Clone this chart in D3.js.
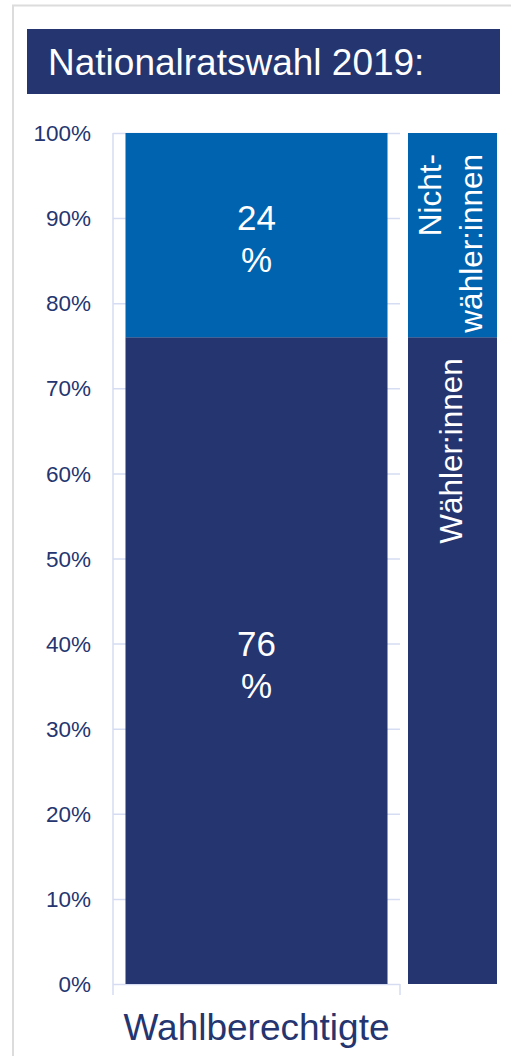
<!DOCTYPE html>
<html>
<head>
<meta charset="utf-8">
<script src="https://cdn.jsdelivr.net/npm/d3@7"></script>
<style>
  html, body { margin: 0; padding: 0; background: #ffffff; }
  svg { display: block; font-family: "Liberation Sans", Arial, sans-serif; }
</style>
</head>
<body>
<svg id="chart" width="511" height="1056"></svg>
<script>
// ---- data ----
const title = "Nationalratswahl 2019:";
const categories = ["Wahlberechtigte"];
const waehlerValues = [76];
const nichtwaehlerValues = [24];
const valueLabels = [["76", "%"], ["24", "%"]];
const yTicks = [0, 10, 20, 30, 40, 50, 60, 70, 80, 90, 100];
const yTickLabels = ["0%", "10%", "20%", "30%", "40%", "50%", "60%", "70%", "80%", "90%", "100%"];
const sideLabels = [["Wähler:innen"], ["Nicht-", "wähler:innen"]];

const navy = "#243570";
const blue = "#0063af";
const grid = "#d6ddf2";

const svg = d3.select("#chart");

// outer frame
svg.append("path")
  .attr("d", "M13,1056 L13,5.5 L511,5.5")
  .attr("fill", "none").attr("stroke", "#dcdcdc").attr("stroke-width", 2);

// title box
svg.append("rect").attr("x", 27).attr("y", 29).attr("width", 473).attr("height", 65).attr("fill", navy);
svg.append("text").attr("x", 48).attr("y", 75)
  .attr("fill", "#ffffff").attr("font-size", 37).text(title);

// scales
const y = d3.scaleLinear().domain([0, 100]).range([984, 133]);
const x = d3.scaleBand().domain(categories).range([113, 400]).paddingInner(0).paddingOuter(0.0477);
const xs = d3.scaleBand().domain(["side"]).range([408, 497]);

// gridlines
svg.append("g").selectAll("line").data(yTicks).join("line")
  .attr("x1", 113).attr("x2", 400)
  .attr("y1", d => y(d) + 0.5).attr("y2", d => y(d) + 0.5)
  .attr("stroke", grid).attr("stroke-width", 1.5);

// axis lines
svg.append("line").attr("x1", 113).attr("x2", 113).attr("y1", y(100)).attr("y2", y(0) + 11)
  .attr("stroke", grid).attr("stroke-width", 1.5);
svg.append("line").attr("x1", 400).attr("x2", 400).attr("y1", y(0)).attr("y2", y(0) + 11)
  .attr("stroke", grid).attr("stroke-width", 1.5);

// y tick labels
svg.append("g").selectAll("text").data(yTicks).join("text")
  .attr("x", 91).attr("y", d => y(d)).attr("dy", "0.36em")
  .attr("text-anchor", "end").attr("fill", navy).attr("font-size", 22.5)
  .text((d, i) => yTickLabels[i]);

// stacked data
const stackData = categories.map((c, i) => ({ cat: c, w: waehlerValues[i], n: nichtwaehlerValues[i] }));
const stack = d3.stack().keys(["w", "n"])(stackData);
const colors = { w: navy, n: blue };

stack.forEach((layer, li) => {
  layer.forEach(seg => {
    svg.append("rect")
      .attr("x", x(seg.data.cat)).attr("width", x.bandwidth())
      .attr("y", y(seg[1])).attr("height", y(seg[0]) - y(seg[1]))
      .attr("fill", colors[layer.key]);
    const cy = (y(seg[0]) + y(seg[1])) / 2;
    const t = svg.append("text")
      .attr("x", x(seg.data.cat) + x.bandwidth() / 2)
      .attr("text-anchor", "middle").attr("fill", "#ffffff").attr("font-size", 35);
    valueLabels[li].forEach((line, k) => {
      t.append("tspan").attr("x", x(seg.data.cat) + x.bandwidth() / 2)
        .attr("y", cy - 5 + k * 42).text(line);
    });
    // side bar segment
    svg.append("rect")
      .attr("x", xs("side")).attr("width", xs.bandwidth())
      .attr("y", y(seg[1])).attr("height", y(seg[0]) - y(seg[1]))
      .attr("fill", colors[layer.key]);
    const lines = sideLabels[li];
    const cx = xs("side") + xs.bandwidth() / 2;
    const ty = y(seg[1]) + 21;
    const st = svg.append("text")
      .attr("transform", `translate(${cx},${ty}) rotate(-90)`)
      .attr("text-anchor", "end").attr("fill", "#ffffff").attr("font-size", 31.5);
    lines.forEach((line, k) => {
      st.append("tspan").attr("x", 0)
        .attr("y", 9 + (k - (lines.length - 1) / 2) * 41).text(line);
    });
  });
});

// category label
svg.append("text").attr("x", (113 + 400) / 2).attr("y", 1040)
  .attr("text-anchor", "middle").attr("fill", navy).attr("font-size", 37)
  .text(categories[0]);
</script>
</body>
</html>
